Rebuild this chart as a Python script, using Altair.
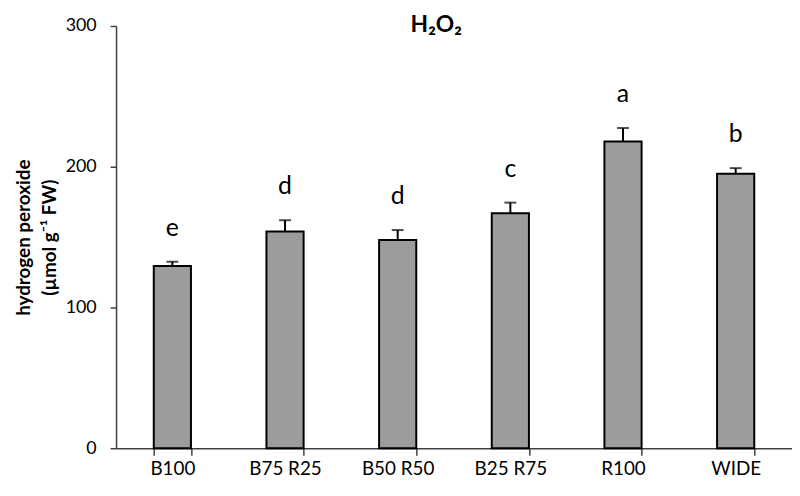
import altair as alt
import pandas as pd

categories = ["B100", "B75 R25", "B50 R50", "B25 R75", "R100", "WIDE"]
values = [129.5, 154, 148, 167, 218, 195]
errors = [3, 8, 7, 7.5, 9.5, 4]
letters = ["e", "d", "d", "c", "a", "b"]

df = pd.DataFrame({"cat": categories, "val": values, "err": errors, "let": letters})
df["top"] = df["val"] + df["err"]

FONT = "Lato"

x = alt.X("cat:N", sort=categories, title=None,
          scale=alt.Scale(paddingInner=0.67, paddingOuter=0.335),
          axis=alt.Axis(labelAngle=0, labelFontSize=19, labelFont=FONT, labelColor="#000",
                        labelPadding=5, tickBand="extent", tickSize=7, tickColor="#404040",
                        domainColor="#404040", tickWidth=1.5, domainWidth=1.5, grid=False))

y = alt.Y("val:Q", scale=alt.Scale(domain=[0, 300]),
          title=["hydrogen peroxide", "(µmol g⁻¹ FW)"],
          axis=alt.Axis(values=[0, 100, 200, 300], labelFontSize=18, labelFont=FONT,
                        labelColor="#000", tickSize=6, labelPadding=14, grid=False,
                        tickColor="#404040", domainColor="#404040", tickWidth=1.5, domainWidth=1.5,
                        titleFontSize=19, titleFont=FONT, titleFontWeight="bold",
                        titleColor="#000", titlePadding=6, titleLineHeight=26))

base = alt.Chart(df)

bars = base.mark_bar(fill="#9c9c9c", stroke="#000", strokeWidth=2).encode(x=x, y=y)

err_rule = base.mark_rule(color="#000", strokeWidth=2).encode(
    x=alt.X("cat:N", sort=categories), y="val:Q", y2="top:Q")
caps = base.mark_tick(color="#000", thickness=2, size=12).encode(
    x=alt.X("cat:N", sort=categories), y="top:Q")
text = base.mark_text(fontSize=25, font=FONT, color="#000", baseline="middle", dy=-34).encode(
    x=alt.X("cat:N", sort=categories), y="top:Q", text="let:N")

chart = alt.layer(bars, err_rule, caps, text).properties(
    width=682, height=426,
    title=alt.TitleParams("H₂O₂", fontSize=23, font=FONT, fontWeight="bold", color="#000",
                          anchor="middle", dx=-18, offset=-20),
    autosize=alt.AutoSizeParams(type="none"),
    padding={"left": 109, "top": 16, "right": 0, "bottom": 40},
).configure_view(stroke=None)

chart.save("out.html", embed_options={"renderer": "svg", "actions": False})
